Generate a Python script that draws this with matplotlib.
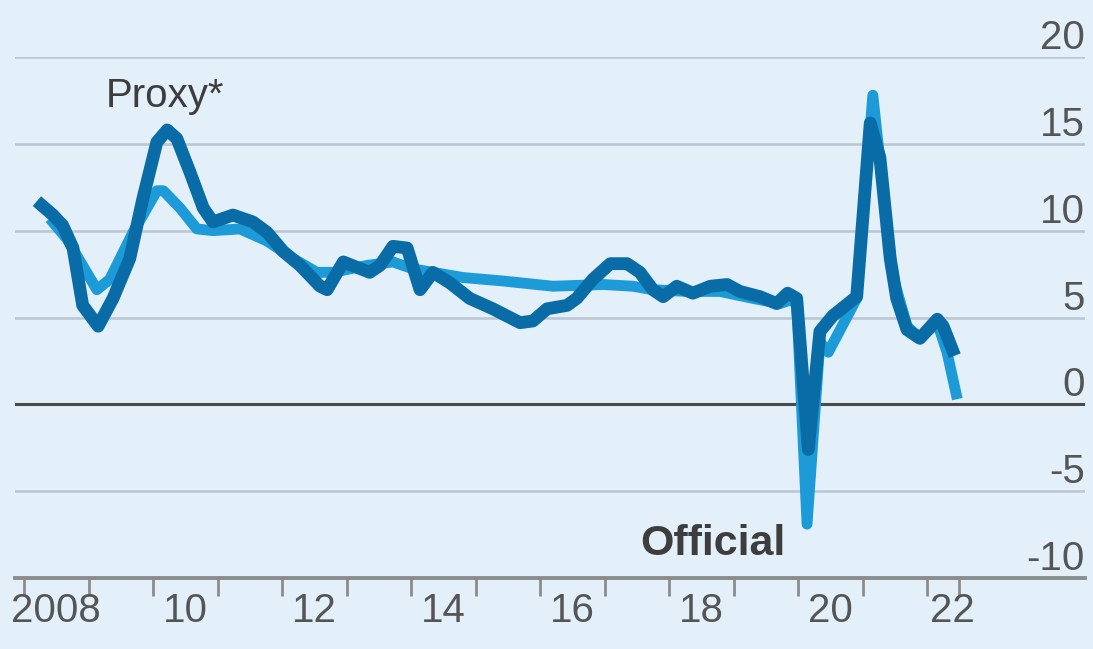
import numpy as np
import matplotlib
matplotlib.use("Agg")
import matplotlib.pyplot as plt

plt.rcParams['font.family'] = ['Liberation Sans', 'DejaVu Sans']

# proxy* series (dark line), year fraction and % value
proxy_t = [2008.20, 2008.45, 2008.60, 2008.76, 2008.91, 2009.15, 2009.38, 2009.64,
           2009.84, 2010.06, 2010.22, 2010.37, 2010.57, 2010.78, 2010.93, 2011.24,
           2011.55, 2011.77, 2012.02, 2012.28, 2012.59, 2012.70, 2012.95, 2013.36,
           2013.52, 2013.72, 2013.94, 2014.14, 2014.34, 2014.60, 2014.91, 2015.27,
           2015.69, 2015.89, 2016.11, 2016.42, 2016.57, 2016.82, 2017.09, 2017.35,
           2017.55, 2017.75, 2017.91, 2018.12, 2018.37, 2018.64, 2018.90, 2019.10,
           2019.41, 2019.67, 2019.84, 2019.98, 2020.16, 2020.34, 2020.54, 2020.91,
           2021.12, 2021.27, 2021.43, 2021.53, 2021.69, 2021.89, 2022.16, 2022.25,
           2022.43]
proxy_v = [11.7, 10.9, 10.3, 9.0, 5.7, 4.5, 6.1, 8.4,
           11.8, 15.1, 15.8, 15.3, 13.4, 11.3, 10.5, 10.9,
           10.5, 9.9, 8.8, 8.0, 6.8, 6.6, 8.2, 7.6,
           8.0, 9.1, 9.0, 6.6, 7.6, 7.0, 6.1, 5.5,
           4.7, 4.8, 5.5, 5.7, 6.1, 7.2, 8.1, 8.1,
           7.6, 6.6, 6.2, 6.8, 6.4, 6.8, 6.9, 6.5,
           6.2, 5.8, 6.4, 6.1, -2.6, 4.2, 5.1, 6.2,
           16.2, 14.2, 8.4, 6.1, 4.3, 3.8, 4.9, 4.5,
           2.8]

# official series (light line)
official_t = [2008.40, 2008.67, 2009.13, 2009.33, 2009.69, 2010.06, 2010.16, 2010.42,
              2010.68, 2010.93, 2011.35, 2011.77, 2012.17, 2012.54, 2012.79, 2013.32,
              2013.72, 2014.03, 2014.34, 2014.81, 2015.43, 2016.20, 2016.98, 2017.44,
              2017.75, 2018.28, 2018.79, 2019.30, 2019.72, 2019.88, 2019.98, 2020.14,
              2020.34, 2020.47, 2020.91, 2021.16, 2021.32, 2021.47, 2021.69, 2021.89,
              2022.16, 2022.31, 2022.47]
official_v = [10.7, 9.5, 6.6, 7.2, 9.9, 12.3, 12.3, 11.3,
              10.1, 10.0, 10.1, 9.4, 8.4, 7.6, 7.6, 8.0,
              8.2, 7.8, 7.6, 7.3, 7.1, 6.8, 6.9, 6.8,
              6.6, 6.5, 6.5, 6.1, 5.8, 6.0, 5.8, -6.9,
              3.6, 3.0, 6.1, 17.8, 12.3, 7.4, 4.5, 3.8,
              4.7, 3.0, 0.3]

year_ticks = list(range(2008, 2023)) + [2022.5]
label_pos = [2008.5, 2010.5, 2012.5, 2014.5, 2016.5, 2018.5, 2020.5, 2022.4]
label_text = ['2008', '10', '12', '14', '16', '18', '20', '22']
y_ticks = [-10, -5, 0, 5, 10, 15, 20]

bg = '#e3f0f9'
dark = '#0a6ca6'
light = '#1d9bd9'
grey_txt = '#555555'

fig = plt.figure(figsize=(10.93, 6.49), dpi=100)
fig.patch.set_facecolor(bg)
ax = fig.add_axes([15/1093, 1-578/649, (1085-15)/1093, (578-57)/649])
ax.set_facecolor(bg)

ax.set_xlim(2008 + (15-24)/64.5, 2008 + (1085-24)/64.5)
ax.set_ylim(-10, 20)

# grid
for yv in [-5, 5, 10, 15, 20]:
    ax.axhline(yv, color='#b9c6d3', lw=1.8, zorder=1)
ax.axhline(0, color='#4a4a4a', lw=2.2, zorder=2)

ax.plot(official_t, official_v, color=light, lw=7.8, solid_joinstyle='round',
        solid_capstyle='butt', zorder=3)
ax.plot(proxy_t, proxy_v, color=dark, lw=9.2, solid_joinstyle='round',
        solid_capstyle='butt', zorder=4)

for s in ['top', 'left', 'right']:
    ax.spines[s].set_visible(False)
ax.spines['bottom'].set_color('#8c8c8c')
ax.spines['bottom'].set_linewidth(2.8)

# x ticks
ax.xaxis.remove_overlapping_locs = False
ax.set_xticks(year_ticks)
ax.set_xticklabels([])
ax.tick_params(axis='x', which='major', length=13, width=2, color='#8c8c8c')
ax.set_xticks(label_pos, minor=True)
ax.set_xticklabels(label_text, minor=True)
ax.tick_params(axis='x', which='minor', length=0, pad=10, labelsize=29,
               labelcolor=grey_txt)

# y labels on the right, above the lines
ax.yaxis.tick_right()
ax.set_yticks(y_ticks)
ax.set_yticklabels([str(v) for v in y_ticks])
ax.tick_params(axis='y', length=0, pad=0, labelsize=29, labelcolor=grey_txt)
for lab in ax.get_yticklabels():
    lab.set_ha('right')
    lab.set_va('bottom')

ax.text(2009.26, 17.1, 'Proxy*', fontsize=29, color='#3d3d3d', ha='left',
        va='baseline')
ax.text(2017.55, -8.7, 'Official', fontsize=31, fontweight='bold',
        color='#3d3d3d', ha='left', va='baseline')

plt.savefig('out.png', dpi=100, facecolor=bg)
